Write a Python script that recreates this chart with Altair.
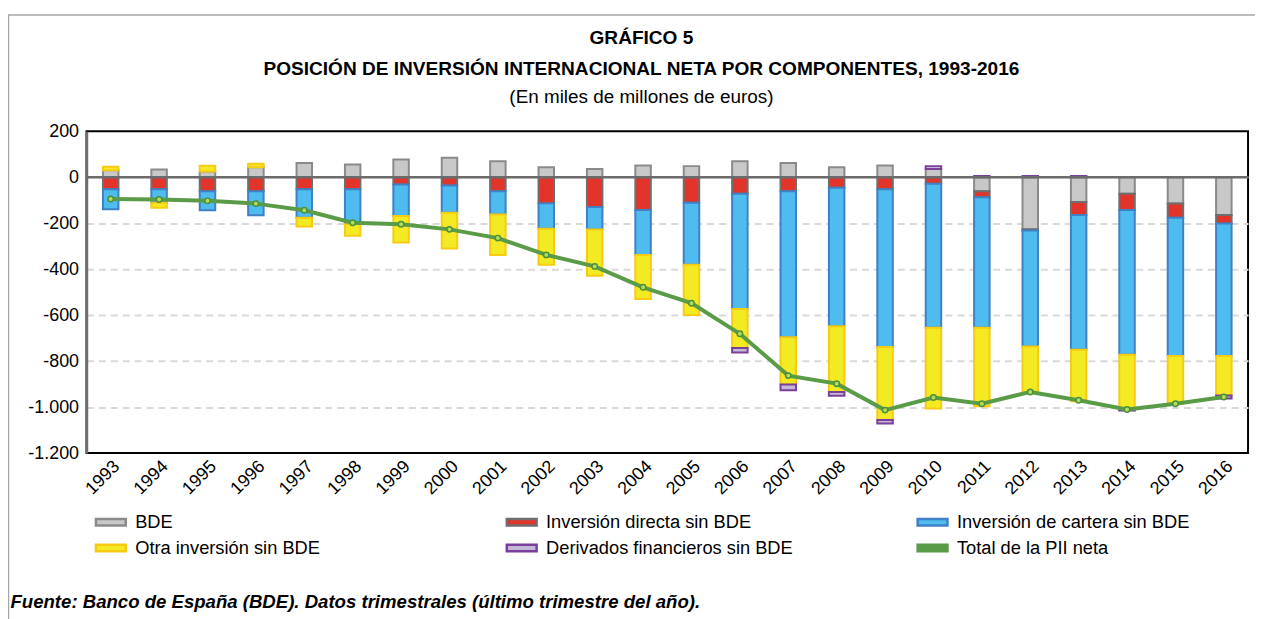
import altair as alt
import pandas as pd

years = [str(y) for y in range(1993, 2017)]

bde = [30, 33, 25, 43, 62, 55, 77, 84, 69, 43, 36, 51, 48, 69, 62, 43, 51, 36,
       -61, -227, -108, -72, -115, -165]
directa = [-53, -53, -61, -61, -53, -53, -32, -36, -61, -114, -130, -143, -111,
           -72, -61, -46, -53, -29, -26, -5, -57, -71, -61, -37]
cartera = [-87, -58, -83, -105, -123, -152, -137, -119, -101, -110, -98, -196,
           -270, -501, -635, -602, -686, -626, -568, -504, -586, -629, -602, -576]
otra = [15, -22, 25, 15, -39, -50, -115, -155, -177, -157, -201, -191, -218,
        -170, -206, -286, -317, -351, -341, -201, -223, -238, -207, -172]
derivados = [0, 0, 0, 0, 0, 0, 0, 0, 0, 0, 0, 0, 0,
             -20, -25, -17, -15, 12, 5, 5, 5, -5, 0, -13]
total = [-95, -97, -103, -115, -144, -198, -205, -227, -265, -338, -388, -479,
         -548, -681, -863, -898, -1013, -958, -985, -934, -970, -1010, -985, -956]

series_names = ["BDE", "Inversión directa sin BDE", "Inversión de cartera sin BDE",
                "Otra inversión sin BDE", "Derivados financieros sin BDE",
                "Total de la PII neta"]
fill_colors = ["#c8c8c8", "#e2342b", "#4ebcee", "#f4ea24", "#c4b8da", "#5a9b48"]
stroke_colors = ["#8a8a8a", "#6e6e6e", "#3f80c6", "#f6cb12", "#7a3f9b", "#5a9b48"]

title_lines = ["GRÁFICO 5",
               "POSICIÓN DE INVERSIÓN INTERNACIONAL NETA POR COMPONENTES, 1993-2016"]
subtitle_text = "(En miles de millones de euros)"
fuente_text = "Fuente: Banco de España (BDE). Datos trimestrales (último trimestre del año)."
y_ticks = [200, 0, -200, -400, -600, -800, -1000, -1200]

FONT = "Liberation Sans"

rows = []
for i, yr in enumerate(years):
    for k, vals in enumerate([bde, directa, cartera, otra, derivados]):
        rows.append({"año": yr, "serie": series_names[k], "orden": k, "valor": vals[i]})
bars_df = pd.DataFrame(rows)
total_df = pd.DataFrame({"año": years, "serie": series_names[5], "valor": total})

fill_scale = alt.Scale(domain=series_names, range=fill_colors)
stroke_scale = alt.Scale(domain=series_names, range=stroke_colors)
y_scale = alt.Scale(domain=[-1200, 200], nice=False)
x_scale = alt.Scale(paddingInner=0.68, paddingOuter=0.34)

x_enc = alt.X(
    "año:O", scale=x_scale, sort=years,
    axis=alt.Axis(
        title=fuente_text, labelAngle=-45, labelFontSize=18, labelFont=FONT,
        labelColor="black", ticks=False, domain=False, labelPadding=4,
        titleX=-77, titleY=155, titleAlign="left", titleBaseline="alphabetic",
        titleFont=FONT, titleFontSize=18.7, titleFontStyle="italic",
        titleFontWeight="bold", titleColor="black", titleAnchor="start",
    ),
)
y_enc = alt.Y(
    "valor:Q", scale=y_scale, stack="zero",
    axis=alt.Axis(
        title=None, values=y_ticks, labelFontSize=18, labelFont=FONT,
        labelColor="black", ticks=False, domain=True, domainColor="#6e6e6e",
        domainWidth=2.5, grid=True, gridColor="#d9d9d9", gridDash=[7, 5],
        gridWidth=2, labelPadding=8,
        gridOpacity=alt.condition("datum.value == 200 || datum.value == -1200",
                                  alt.value(0), alt.value(1)),
        labelExpr="abs(datum.value) >= 1000 ? (datum.value < 0 ? '-' : '') + '1.' + substring(toString(abs(datum.value)), 1) : toString(datum.value)",
    ),
)

bars = alt.Chart(bars_df).transform_filter("datum.valor != 0").mark_bar(
    strokeWidth=2
).encode(
    x=x_enc,
    y=y_enc,
    fill=alt.Fill("serie:N", scale=fill_scale, title=None),
    stroke=alt.Stroke("serie:N", scale=stroke_scale, title=None),
    order=alt.Order("orden:Q", sort="ascending"),
)

zero_rule = alt.Chart(pd.DataFrame({"cero": [0]})).mark_rule(
    color="#6b6b6b", strokeWidth=2.5
).encode(y=alt.Y("cero:Q", scale=y_scale))

line = alt.Chart(total_df).mark_line(strokeWidth=4).encode(
    x=alt.X("año:O", scale=x_scale, sort=years),
    y=alt.Y("valor:Q", scale=y_scale),
    stroke=alt.Stroke("serie:N", scale=stroke_scale, title=None),
)

points = alt.Chart(total_df).mark_point(
    shape="circle", filled=True, fill="#b2dd58", stroke="#4c8f3c",
    strokeWidth=1.5, size=30, opacity=1
).encode(
    x=alt.X("año:O", scale=x_scale, sort=years),
    y=alt.Y("valor:Q", scale=y_scale),
)

frame_top = alt.Chart(pd.DataFrame({"k": [0]})).mark_rule(
    color="#a6a6a6", strokeWidth=1.5, clip=False
).encode(x=alt.value(-79), x2=alt.value(1176), y=alt.value(-117), y2=alt.value(-117))

frame_left = alt.Chart(pd.DataFrame({"k": [0]})).mark_rule(
    color="#a6a6a6", strokeWidth=1.5, clip=False
).encode(x=alt.value(-78.5), y=alt.value(-117), y2=alt.value(500))

chart = alt.layer(bars, zero_rule, line, points, frame_top, frame_left).properties(
    width=1169,
    height=324,
    padding={"left": 79, "top": 122, "right": 7, "bottom": 165},
    autosize=alt.AutoSizeParams(type="none"),
    title=alt.TitleParams(
        text=title_lines, subtitle=subtitle_text, font=FONT, fontSize=19.2,
        fontWeight="bold", color="black", lineHeight=31, subtitleFont=FONT,
        subtitleFontSize=19, subtitleColor="black", subtitlePadding=9,
        anchor="middle", offset=-93, dx=-26,
    ),
).configure_view(
    stroke="black", strokeWidth=2
).configure_legend(
    orient="none", legendX=8, legendY=377, columns=3, direction="horizontal",
    gridAlign="all", columnPadding=119.5, rowPadding=0,
    symbolType="M-1,-0.22L1,-0.22L1,0.22L-1,0.22Z",
    symbolSize=900, symbolStrokeWidth=2.5, labelFontSize=18.4, labelFont=FONT,
    labelColor="black", labelLimit=400, labelOffset=8, title=None,
)

chart.save("out.html", embed_options={"renderer": "svg", "actions": False})
